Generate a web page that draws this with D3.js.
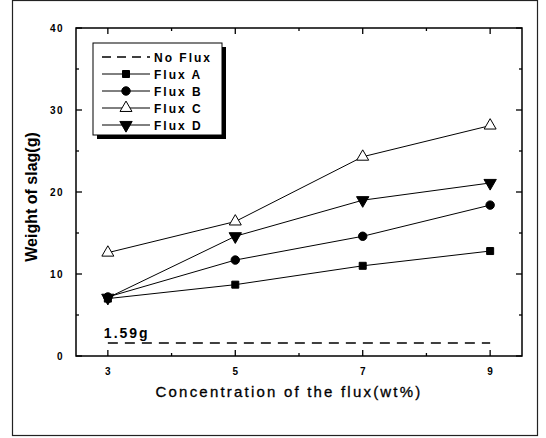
<!DOCTYPE html>
<html>
<head>
<meta charset="utf-8">
<script src="https://cdn.jsdelivr.net/npm/d3@7"></script>
<style>
  body { margin: 0; background: #fff; }
  text { font-family: "Liberation Sans", Arial, sans-serif; fill: #000; }
</style>
</head>
<body>
<svg id="chart"></svg>
<script>
// Data
const concentrations = [3, 5, 7, 9];
const fluxA = [7.0, 8.7, 11.0, 12.8];
const fluxB = [7.2, 11.7, 14.6, 18.4];
const fluxC = [12.6, 16.4, 24.3, 28.1];
const fluxD = [7.1, 14.6, 19.0, 21.1];
const noFlux = 1.59;
const xTicks = [3, 5, 7, 9];
const yTicks = [0, 10, 20, 30, 40];

const W = 546, H = 438;
const margin = { top: 28, right: 24, bottom: 82, left: 76 };
const width = W - margin.left - margin.right;
const height = H - margin.top - margin.bottom;

const svg = d3.select("#chart").attr("width", W).attr("height", H);

// outer frame
svg.append("rect")
    .attr("x", 12.5).attr("y", 0.5)
    .attr("width", 525).attr("height", 435)
    .attr("fill", "none").attr("stroke", "#222").attr("stroke-width", 1.2);

const g = svg.append("g").attr("transform", `translate(${margin.left},${margin.top})`);

const x = d3.scaleLinear().domain([2.5, 9.5]).range([0, width]);
const y = d3.scaleLinear().domain([0, 40]).range([height, 0]);

// plot box
g.append("rect")
    .attr("width", width).attr("height", height)
    .attr("fill", "none").attr("stroke", "#000").attr("stroke-width", 1.5);

// inward ticks on all sides
const xMinor = [4, 6, 8];
const yMinor = [5, 15, 25, 35];
function ticksX(vals, len) {
    vals.forEach(v => {
        g.append("line").attr("x1", x(v)).attr("x2", x(v)).attr("y1", height).attr("y2", height - len)
            .attr("stroke", "#000").attr("stroke-width", 1.3);
        g.append("line").attr("x1", x(v)).attr("x2", x(v)).attr("y1", 0).attr("y2", len)
            .attr("stroke", "#000").attr("stroke-width", 1.3);
    });
}
function ticksY(vals, len) {
    vals.forEach(v => {
        g.append("line").attr("x1", 0).attr("x2", len).attr("y1", y(v)).attr("y2", y(v))
            .attr("stroke", "#000").attr("stroke-width", 1.3);
        g.append("line").attr("x1", width).attr("x2", width - len).attr("y1", y(v)).attr("y2", y(v))
            .attr("stroke", "#000").attr("stroke-width", 1.3);
    });
}
ticksX(xTicks, 6); ticksX(xMinor, 3);
ticksY(yTicks, 6); ticksY(yMinor, 3);

// tick labels
g.selectAll(".xl").data(xTicks).enter().append("text")
    .attr("x", d => x(d)).attr("y", height + 19)
    .attr("text-anchor", "middle").attr("font-size", 10).attr("font-weight", "bold")
    .text(d => d);
g.selectAll(".yl").data(yTicks).enter().append("text")
    .attr("x", -12).attr("y", d => y(d) + 4)
    .attr("text-anchor", "end").attr("font-size", 10).attr("font-weight", "bold")
    .attr("letter-spacing", 1.5)
    .text(d => d);

// axis titles
svg.append("text")
    .attr("x", 289).attr("y", 397)
    .attr("text-anchor", "middle").attr("font-size", 15).attr("letter-spacing", 2.2)
    .attr("stroke", "#000").attr("stroke-width", 0.3)
    .text("Concentration of the flux(wt%)");
svg.append("text")
    .attr("transform", "translate(37,197) rotate(-90)")
    .attr("text-anchor", "middle").attr("font-size", 16).attr("font-weight", "bold")
    .text("Weight of slag(g)");

// no flux line
g.append("line")
    .attr("x1", x(3)).attr("x2", x(9)).attr("y1", y(noFlux)).attr("y2", y(noFlux))
    .attr("stroke", "#000").attr("stroke-width", 1.6).attr("stroke-dasharray", "10,7");
g.append("text")
    .attr("x", x(3) - 4).attr("y", y(noFlux) - 5)
    .attr("font-size", 14).attr("font-weight", "bold").attr("letter-spacing", 2)
    .text("1.59g");

const line = d3.line().x((d, i) => x(concentrations[i])).y(d => y(d));

const series = [
    { name: "Flux A", values: fluxA, sym: d3.symbolSquare, size: 49, fill: "#000" },
    { name: "Flux B", values: fluxB, sym: d3.symbolCircle, size: 56, fill: "#000" },
    { name: "Flux C", values: fluxC, sym: d3.symbolTriangle, size: 62, fill: "#fff" },
    { name: "Flux D", values: fluxD, sym: d3.symbolTriangle, size: 66, fill: "#000", flip: true }
];

series.forEach(s => {
    g.append("path").datum(s.values)
        .attr("d", line).attr("fill", "none").attr("stroke", "#000").attr("stroke-width", 1);
});
series.forEach(s => {
    g.selectAll(null).data(s.values).enter().append("path")
        .attr("d", d3.symbol().type(s.sym).size(s.size))
        .attr("transform", (d, i) => `translate(${x(concentrations[i])},${y(d)})${s.flip ? " rotate(180)" : ""}`)
        .attr("fill", s.fill).attr("stroke", "#000").attr("stroke-width", 1);
});

// legend
const lg = svg.append("g").attr("transform", "translate(93,43)");
lg.append("rect").attr("x", 4).attr("y", 4).attr("width", 129).attr("height", 92).attr("fill", "#000");
lg.append("rect").attr("x", 0).attr("y", 0).attr("width", 129).attr("height", 92)
    .attr("fill", "#fff").attr("stroke", "#000").attr("stroke-width", 1);
const legendNames = ["No Flux", "Flux A", "Flux B", "Flux C", "Flux D"];
legendNames.forEach((name, i) => {
    const yy = 14 + i * 17;
    const ln = lg.append("line").attr("x1", 9).attr("x2", 57).attr("y1", yy).attr("y2", yy)
        .attr("stroke", "#000").attr("stroke-width", i === 0 ? 1.6 : 1);
    if (i === 0) ln.attr("stroke-dasharray", "9,6");
    else {
        const s = series[i - 1];
        lg.append("path")
            .attr("d", d3.symbol().type(s.sym).size(s.size))
            .attr("transform", `translate(33,${yy})${s.flip ? " rotate(180)" : ""}`)
            .attr("fill", s.fill).attr("stroke", "#000").attr("stroke-width", 1);
    }
    lg.append("text").attr("x", 61).attr("y", yy + 5)
        .attr("font-size", 12).attr("font-weight", "bold").attr("letter-spacing", 2)
        .text(name);
});
</script>
</body>
</html>
